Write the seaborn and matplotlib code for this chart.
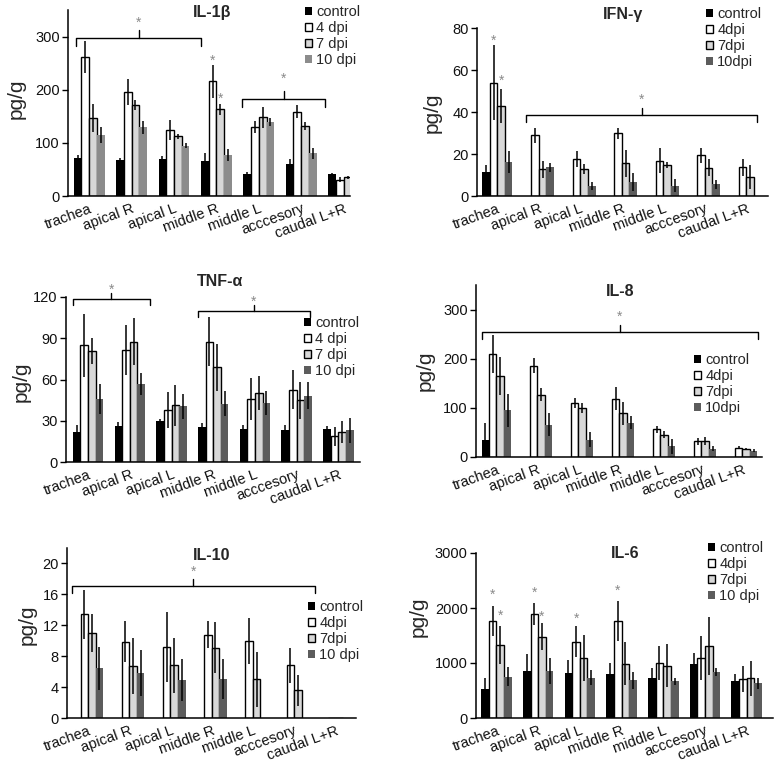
import numpy as np
import pandas as pd
import matplotlib
matplotlib.use("Agg")
import matplotlib.pyplot as plt
import seaborn as sns

# ---------------- data ----------------
tissues = ["trachea", "apical R", "apical L", "middle R", "middle L", "acccesory", "caudal L+R"]
groups = ["control", "4", "7", "10"]

il1b_control = [71, 67, 70, 66, 41, 60, 41]
il1b_control_err = [7, 5, 5, 15, 5, 9, 3]
il1b_d4 = [262, 196, 124, 216, 130, 159, 31]
il1b_d4_err = [30, 24, 19, 31, 11, 12, 5]
il1b_d7 = [147, 171, 112, 163, 148, 132, 35]
il1b_d7_err = [26, 10, 4, 10, 20, 8, 3]
il1b_d10 = [115, 129, 95, 77, 139, 80, 45]
il1b_d10_err = [15, 12, 5, 11, 7, 11, 4]

ifn_control = [11.6, 0, 0, 0, 0, 0, 0]
ifn_control_err = [3, 0, 0, 0, 0, 0, 0]
ifn_d4 = [54, 29, 17.6, 29.8, 16.8, 19.3, 13.6]
ifn_d4_err = [18, 3.6, 4, 2.8, 6, 3.7, 4]
ifn_d7 = [43, 12.7, 12.7, 15.5, 14.7, 13.5, 9.2]
ifn_d7_err = [8, 4, 2.4, 6.4, 1.3, 4, 5.8]
ifn_d10 = [16.3, 13.6, 4.8, 6.8, 4.9, 5.5, 0]
ifn_d10_err = [5.3, 2.2, 2, 4.3, 3, 2.1, 0]

tnf_control = [21.8, 26, 29.6, 25.2, 24.2, 23.3, 24.2]
tnf_control_err = [5, 3, 1.7, 3.2, 2.8, 3.4, 1.8]
tnf_d4 = [85, 81.5, 37.6, 87.5, 45.8, 52.6, 18.7]
tnf_d4_err = [23, 18, 13, 18, 15, 14, 7]
tnf_d7 = [80.7, 87.5, 41.2, 68.8, 50.2, 44.8, 21.6]
tnf_d7_err = [9.5, 17, 15, 17, 12.6, 13.4, 8]
tnf_d10 = [45.8, 56.7, 40.5, 42.4, 42.9, 48.2, 23]
tnf_d10_err = [11, 8, 9, 9, 8.5, 10, 9]

il8_control = [35, 0, 0, 0, 0, 0, 0]
il8_control_err = [35, 0, 0, 0, 0, 0, 0]
il8_d4 = [210, 186, 110, 119, 56, 32, 19]
il8_d4_err = [39, 15, 11, 23, 7, 7, 3]
il8_d7 = [165, 127, 100, 89, 45, 33, 16]
il8_d7_err = [39, 14, 10, 23, 7, 8, 2.5]
il8_d10 = [95, 66, 35, 70, 22, 17, 13]
il8_d10_err = [34, 23, 15, 14, 15, 5, 3]

il10_control = [0, 0, 0, 0, 0, 0, 0]
il10_control_err = [0, 0, 0, 0, 0, 0, 0]
il10_d4 = [13.4, 9.9, 9.2, 10.8, 10.0, 6.8, 0]
il10_d4_err = [3.2, 2.7, 4.5, 1.8, 3.0, 2.3, 0]
il10_d7 = [11.0, 6.7, 6.8, 9.1, 5.0, 3.6, 0]
il10_d7_err = [2.4, 3.6, 3.5, 3.3, 3.6, 2.0, 0]
il10_d10 = [6.45, 5.8, 4.9, 5.0, 0, 0, 0]
il10_d10_err = [2.8, 3.0, 2.7, 2.6, 0, 0, 0]

il6_control = [525, 863, 827, 797, 736, 990, 664]
il6_control_err = [210, 300, 230, 210, 170, 200, 140]
il6_d4 = [1762, 1895, 1388, 1762, 1002, 1092, 712]
il6_d4_err = [280, 205, 285, 370, 314, 400, 235]
il6_d7 = [1328, 1479, 1086, 984, 954, 1310, 724]
il6_d7_err = [345, 240, 420, 390, 386, 520, 320]
il6_d10 = [748, 857, 736, 682, 670, 833, 634]
il6_d10_err = [175, 230, 133, 150, 66, 72, 100]

labels_spaced = ["control", "4 dpi", "7 dpi", "10 dpi"]
labels_tight = ["control", "4dpi", "7dpi", "10dpi"]
labels_mixed = ["control", "4dpi", "7dpi", "10 dpi"]

# ---------------- style ----------------
sns.set_theme(style="ticks")
plt.rcParams["font.family"] = ["Liberation Sans", "DejaVu Sans"]

W, H = 777, 764
fig = plt.figure(figsize=(W / 100, H / 100), dpi=100)

C_CTRL = "#000000"
C_D4 = "#ffffff"
C_D7 = "#d8d8d8"
C_D10_LIGHT = "#8c8c8c"
C_D10_DARK = "#5c5c5c"
STAR_C = "#8a8a8a"


def add_axes_px(left, right, top, bottom):
    return fig.add_axes([left / W, 1 - bottom / H, (right - left) / W, (bottom - top) / H])


def panel(ax, title, vals, errs, d10color, ylim, yticks, xlim, legend_labels, legend_px,
          ylabel_px, title_px):
    df = pd.DataFrame({
        "tissue": np.tile(tissues, 4),
        "group": np.repeat(groups, len(tissues)),
        "value": np.concatenate([np.asarray(v, float) for v in vals]),
    })
    pal = {"control": C_CTRL, "4": C_D4, "7": C_D7, "10": d10color}
    sns.barplot(data=df, x="tissue", y="value", hue="group", order=tissues,
                hue_order=groups, palette=pal, width=0.73, errorbar=None,
                saturation=1, legend=False, ax=ax, linewidth=1.0, edgecolor="black")
    bar_conts = list(ax.containers)
    handles = []
    for ci, cont in enumerate(bar_conts):
        xs, ys, es = [], [], []
        for j, p in enumerate(cont.patches):
            if ci == 3:
                p.set_edgecolor(d10color)
                p.set_linewidth(0)
            if ci == 0:
                p.set_linewidth(0)
            if vals[ci][j] > 0 and errs[ci][j] > 0:
                xs.append(p.get_x() + p.get_width() / 2)
                ys.append(p.get_height())
                es.append(errs[ci][j])
        if xs:
            ax.errorbar(xs, ys, yerr=es, fmt="none", ecolor="black", elinewidth=1.1,
                        capsize=0, zorder=3)
        handles.append(cont.patches[0])
    ax.set_xlim(*xlim)
    ax.set_ylim(*ylim)
    ax.set_yticks(yticks)
    ax.set_xlabel("")
    ax.set_ylabel("")
    sns.despine(ax=ax)
    for s in ["left", "bottom"]:
        ax.spines[s].set_color("black")
        ax.spines[s].set_linewidth(1.1)
    ax.tick_params(axis="y", labelsize=10.5, length=4, width=1, color="black", pad=2,
                   labelcolor="#111111")
    ax.tick_params(axis="x", labelsize=10.5, length=0, pad=4, labelcolor="#111111")
    ax.set_xticks(range(len(tissues)))
    ax.set_xticklabels(tissues, rotation=20, ha="right", rotation_mode="anchor")
    ax.legend(handles=handles, labels=legend_labels, loc="upper left",
              bbox_to_anchor=(legend_px[0] / W, 1 - legend_px[1] / H),
              bbox_transform=fig.transFigure, frameon=False, fontsize=10.5,
              handlelength=0.48, handleheight=0.48, handletextpad=0.3,
              labelspacing=0.14, borderpad=0, borderaxespad=0)
    fig.text(ylabel_px[0] / W, 1 - ylabel_px[1] / H, "pg/g", rotation=90,
             ha="center", va="center", fontsize=15)
    fig.text(title_px[0] / W, 1 - title_px[1] / H, title, ha="center", va="center",
             fontsize=11.5, fontweight="bold")


def bracket(ax, x0, x1, y, h):
    xm = (x0 + x1) / 2
    ax.plot([x0, x0, x1, x1], [y - h, y, y, y - h], color="black", lw=1.0, clip_on=False)
    ax.plot([xm, xm], [y, y + h], color="black", lw=1.0, clip_on=False)


def star(ax, x, y, dx=0.0):
    ax.text(x + dx, y, "*", ha="center", va="center", fontsize=10, color=STAR_C,
            clip_on=False)


def dodge(i):
    return (i - 1.5) * 0.73 / 4


# Panel 1: IL-1b
ax1 = add_axes_px(68, 350, 10, 196)
panel(ax1, "IL-1β",
      [il1b_control, il1b_d4, il1b_d7, il1b_d10],
      [il1b_control_err, il1b_d4_err, il1b_d7_err, il1b_d10_err],
      C_D10_LIGHT, (0, 350), [0, 100, 200, 300], (-0.5, 6.15), labels_spaced,
      (305, 5), (16, 99), (212, 13))
bracket(ax1, -0.31, 2.64, 297, 15)
star(ax1, 1.16, 326)
bracket(ax1, 3.61, 5.57, 183, 15)
star(ax1, 4.59, 220)
star(ax1, 3 + dodge(1), 255)
star(ax1, 3 + dodge(2), 183)

# Panel 2: IFN-g
ax2 = add_axes_px(477, 768, 28, 196)
panel(ax2, "IFN-γ",
      [ifn_control, ifn_d4, ifn_d7, ifn_d10],
      [ifn_control_err, ifn_d4_err, ifn_d7_err, ifn_d10_err],
      C_D10_DARK, (0, 80), [0, 20, 40, 60, 80], (-0.49, 6.52), labels_tight,
      (706, 7), (432, 113), (623, 15))
bracket(ax2, 0.70, 6.25, 38.5, 3.2)
star(ax2, 3.48, 45.8)
star(ax2, dodge(1), 74)
star(ax2, dodge(2), 55)

# Panel 3: TNF-a
ax3 = add_axes_px(66, 360, 297, 462)
panel(ax3, "TNF-α",
      [tnf_control, tnf_d4, tnf_d7, tnf_d10],
      [tnf_control_err, tnf_d4_err, tnf_d7_err, tnf_d10_err],
      C_D10_DARK, (0, 120), [0, 30, 60, 90, 120], (-0.53, 6.52), labels_spaced,
      (304, 316), (21, 382), (220, 282))
bracket(ax3, -0.37, 1.49, 118.5, 4.5)
star(ax3, 0.56, 125.5)
bracket(ax3, 2.63, 5.32, 110, 4.5)
star(ax3, 3.97, 116.5)

# Panel 4: IL-8
ax4 = add_axes_px(476, 762, 285, 457)
panel(ax4, "IL-8",
      [il8_control, il8_d4, il8_d7, il8_d10],
      [il8_control_err, il8_d4_err, il8_d7_err, il8_d10_err],
      C_D10_DARK, (0, 350), [0, 100, 200, 300], (-0.5, 6.48), labels_tight,
      (694, 353), (425, 371), (620, 292))
bracket(ax4, -0.36, 6.39, 254, 14)
star(ax4, 3.0, 286)

# Panel 5: IL-10
ax5 = add_axes_px(67, 356, 548, 718)
panel(ax5, "IL-10",
      [il10_control, il10_d4, il10_d7, il10_d10],
      [il10_control_err, il10_d4_err, il10_d7_err, il10_d10_err],
      C_D10_DARK, (0, 22), [0, 4, 8, 12, 16, 20], (-0.51, 6.5), labels_mixed,
      (308, 600), (27, 625), (212, 555))
bracket(ax5, -0.40, 5.51, 17.1, 0.9)
star(ax5, 2.55, 18.9)

# Panel 6: IL-6
ax6 = add_axes_px(476, 773, 553, 718)
panel(ax6, "IL-6",
      [il6_control, il6_d4, il6_d7, il6_d10],
      [il6_control_err, il6_d4_err, il6_d7_err, il6_d10_err],
      C_D10_DARK, (0, 3000), [0, 1000, 2000, 3000], (-0.49, 6.63), labels_mixed,
      (708, 541), (418, 617), (625, 553))
star(ax6, 0 + dodge(1), 2240)
star(ax6, 0 + dodge(2), 1850)
star(ax6, 1 + dodge(1), 2270)
star(ax6, 1 + dodge(2), 1840)
star(ax6, 2 + dodge(1), 1800)
star(ax6, 3 + dodge(1), 2320)

fig.savefig("out.png", dpi=100)
